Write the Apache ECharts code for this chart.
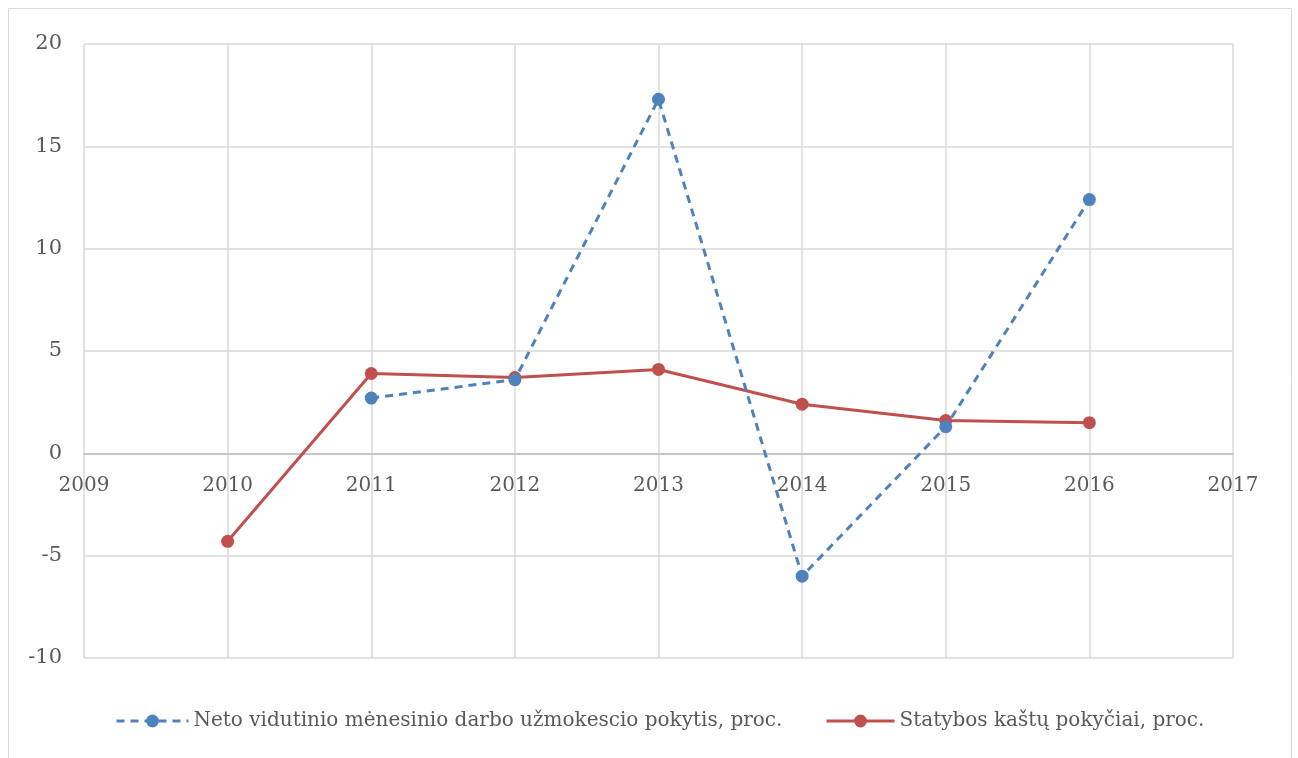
<!DOCTYPE html>
<html><head><meta charset="utf-8">
<script src="https://cdn.jsdelivr.net/npm/echarts@6/dist/echarts.min.js"></script>
<style>html,body{margin:0;padding:0;background:#fff}#c{width:1298px;height:758px}</style>
</head><body><div id="c"></div>
<script>
const years = [2010, 2011, 2012, 2013, 2014, 2015, 2016];
const wageChange = [null, 2.7, 3.6, 17.3, -6.0, 1.3, 12.4];
const costChange = [-4.3, 3.9, 3.7, 4.1, 2.4, 1.6, 1.5];
const seriesNames = ['Neto vidutinio mėnesinio darbo užmokescio pokytis, proc.', 'Statybos kaštų pokyčiai, proc.'];

const toPairs = (vals) => years.map((y, i) => [y, vals[i]]).filter(p => p[1] !== null);
const font = '"DejaVu Serif", serif';
const chart = echarts.init(document.getElementById('c'), null, {renderer: 'canvas'});
chart.setOption({
  animation: false,
  backgroundColor: '#fff',
  graphic: [{type: 'rect', shape: {x: 8.5, y: 8.5, width: 1283, height: 760}, style: {fill: 'none', stroke: '#d9d9d9', lineWidth: 1}}],
  grid: [
    {left: 84, right: 65, top: 44, bottom: 100, containLabel: false},
    // helper grid whose bottom edge sits on the zero line, carrying the x labels
    {left: 84, right: 65, top: 44, bottom: 305, containLabel: false}
  ],
  xAxis: [{
    type: 'value', min: 2009, max: 2017, interval: 1, gridIndex: 0,
    axisLine: {show: true, onZero: true, lineStyle: {color: '#bfbfbf', width: 1.5}},
    axisTick: {show: false},
    axisLabel: {show: false},
    splitLine: {show: true, lineStyle: {color: '#d9d9d9', width: 1.5}}
  }, {
    type: 'value', min: 2009, max: 2017, interval: 1, gridIndex: 1,
    axisLine: {show: false}, axisTick: {show: false}, splitLine: {show: false},
    axisLabel: {color: '#595959', fontSize: 20, fontFamily: font, margin: 23, formatter: v => String(v)}
  }],
  yAxis: [{
    type: 'value', min: -10, max: 20, interval: 5, gridIndex: 0,
    axisLine: {show: false}, axisTick: {show: false},
    axisLabel: {color: '#595959', fontSize: 21, fontFamily: font, margin: 22},
    splitLine: {show: true, lineStyle: {color: '#d9d9d9', width: 1.5}}
  }, {
    type: 'value', gridIndex: 1, show: false, min: 0, max: 20
  }],
  legend: [
    {data: [seriesNames[0]], left: 110, top: 706, itemWidth: 72, itemHeight: 16,
     lineStyle: {width: 3}, textStyle: {color: '#595959', fontSize: 20, fontFamily: font}},
    {data: [seriesNames[1]], left: 820, top: 706, itemWidth: 68, itemHeight: 16,
     lineStyle: {width: 3}, textStyle: {color: '#595959', fontSize: 20, fontFamily: font}}
  ],
  series: [
    {name: seriesNames[0], type: 'line', data: toPairs(wageChange), symbol: 'circle', symbolSize: 13,
     itemStyle: {color: '#4f81bd'}, lineStyle: {color: '#4f81bd', width: 3, type: [8, 6]}, z: 3},
    {name: seriesNames[1], type: 'line', data: toPairs(costChange), symbol: 'circle', symbolSize: 13,
     itemStyle: {color: '#c0504d'}, lineStyle: {color: '#c0504d', width: 3}, z: 2}
  ]
});
</script></body></html>
